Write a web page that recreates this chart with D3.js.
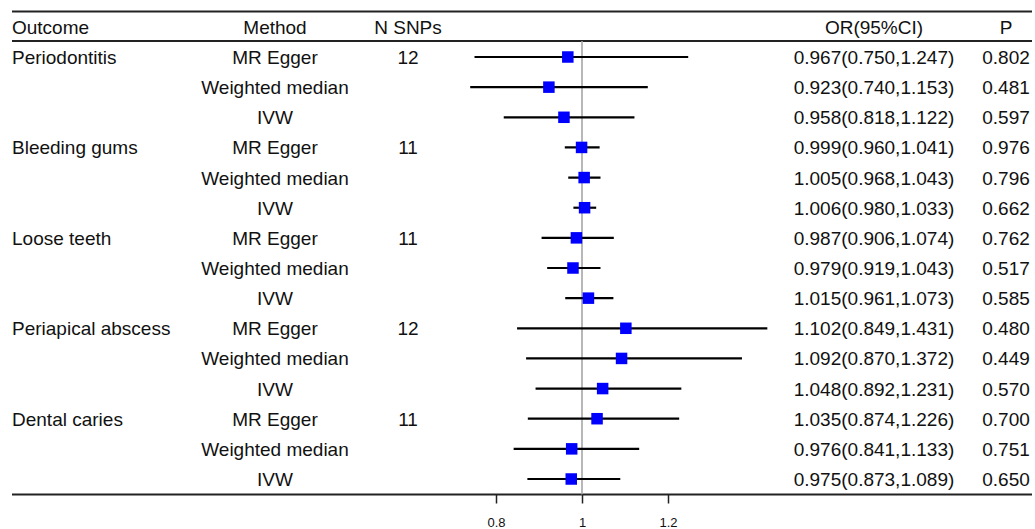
<!DOCTYPE html>
<html>
<head>
<meta charset="utf-8">
<script src="https://cdn.jsdelivr.net/npm/d3@7"></script>
<style>
  html, body { margin: 0; padding: 0; background: #fff; }
  svg { display: block; font-family: "Liberation Sans", Arial, sans-serif; }
</style>
</head>
<body>
<svg id="chart" width="1035" height="529"></svg>
<script>
const outcomes = ["Periodontitis", "Bleeding gums", "Loose teeth", "Periapical abscess", "Dental caries"];
const methods = ["MR Egger", "Weighted median", "IVW"];
const nSnps = [12, 11, 11, 12, 11];
const orValues = [0.967, 0.923, 0.958, 0.999, 1.005, 1.006, 0.987, 0.979, 1.015, 1.102, 1.092, 1.048, 1.035, 0.976, 0.975];
const ciLower = [0.750, 0.740, 0.818, 0.960, 0.968, 0.980, 0.906, 0.919, 0.961, 0.849, 0.870, 0.892, 0.874, 0.841, 0.873];
const ciUpper = [1.247, 1.153, 1.122, 1.041, 1.043, 1.033, 1.074, 1.043, 1.073, 1.431, 1.372, 1.231, 1.226, 1.133, 1.089];
const pValues = ["0.802", "0.481", "0.597", "0.976", "0.796", "0.662", "0.762", "0.517", "0.585", "0.480", "0.449", "0.570", "0.700", "0.751", "0.650"];
const tickValues = [0.8, 1, 1.2];
const tickLabels = ["0.8", "1", "1.2"];
const headers = ["Outcome", "Method", "N SNPs", "OR(95%CI)", "P"];

const rows = orValues.map((v, i) => ({
  outcome: i % 3 === 0 ? outcomes[i / 3] : "",
  method: methods[i % 3],
  n: i % 3 === 0 ? String(nSnps[i / 3]) : "",
  or: v, lo: ciLower[i], hi: ciUpper[i], p: pValues[i]
}));

const svg = d3.select("#chart");
const fs = 19;
const leftX = 12, rightX = 1032;
const topLine = 11.5, headLine = 41, bottomLine = 494.5;

const x = d3.scaleLinear().domain([0.8, 1.2]).range([496, 668]);
const y = d3.scaleLinear().domain([0, rows.length - 1]).range([57, 479]);
const rowStep = y(1) - y(0);

const colX = { outcome: leftX, method: 275, n: 408, or: 874, p: 1006 };

// horizontal rules
[topLine, headLine, bottomLine].forEach(yy => {
  svg.append("line").attr("x1", leftX).attr("x2", rightX).attr("y1", yy).attr("y2", yy)
    .attr("stroke", "#222").attr("stroke-width", 1.8);
});

// reference line at 1
svg.append("line").attr("x1", x(1)).attr("x2", x(1)).attr("y1", headLine).attr("y2", bottomLine)
  .attr("stroke", "#a6a6a6").attr("stroke-width", 1.6);

// headers
const hy = y(0) - rowStep + 7;
const hdr = [
  [headers[0], colX.outcome, "start"],
  [headers[1], colX.method, "middle"],
  [headers[2], colX.n, "middle"],
  [headers[3], colX.or, "middle"],
  [headers[4], colX.p, "middle"]
];
svg.selectAll("text.hdr").data(hdr).enter().append("text").attr("class", "hdr")
  .attr("x", d => d[1]).attr("y", hy).attr("text-anchor", d => d[2])
  .attr("font-size", fs).attr("fill", "#111").text(d => d[0]);

// row texts
const g = svg.selectAll("g.row").data(rows).enter().append("g").attr("class", "row")
  .attr("transform", (d, i) => `translate(0,${y(i)})`);

g.append("text").attr("x", colX.outcome).attr("y", 7).attr("font-size", fs).attr("fill", "#111").text(d => d.outcome);
g.append("text").attr("x", colX.method).attr("y", 7).attr("text-anchor", "middle").attr("font-size", fs).attr("fill", "#111").text(d => d.method);
g.append("text").attr("x", colX.n).attr("y", 7).attr("text-anchor", "middle").attr("font-size", fs).attr("fill", "#111").text(d => d.n);
g.append("text").attr("x", colX.or).attr("y", 7).attr("text-anchor", "middle").attr("font-size", fs).attr("fill", "#111")
  .text(d => `${d.or.toFixed(3)}(${d.lo.toFixed(3)},${d.hi.toFixed(3)})`);
g.append("text").attr("x", colX.p).attr("y", 7).attr("text-anchor", "middle").attr("font-size", fs).attr("fill", "#111").text(d => d.p);

// CI lines
g.append("line").attr("x1", d => x(d.lo)).attr("x2", d => x(d.hi)).attr("y1", 0).attr("y2", 0)
  .attr("stroke", "#000").attr("stroke-width", 2.2);

// squares
const sq = 11.5;
g.append("rect").attr("x", d => x(d.or) - sq / 2).attr("y", -sq / 2).attr("width", sq).attr("height", sq)
  .attr("fill", "#0000ff");

// axis
const axis = d3.axisBottom(x).tickValues(tickValues).tickFormat((d, i) => tickLabels[i]).tickSize(9).tickPadding(14);
const ax = svg.append("g").attr("transform", `translate(0,${bottomLine})`).call(axis);
ax.select(".domain").remove();
ax.selectAll(".tick line").attr("stroke", "#222").attr("stroke-width", 1.5);
ax.selectAll(".tick text").attr("font-size", 13).attr("fill", "#111")
  .attr("font-family", "Liberation Sans, Arial, sans-serif");
</script>
</body>
</html>
